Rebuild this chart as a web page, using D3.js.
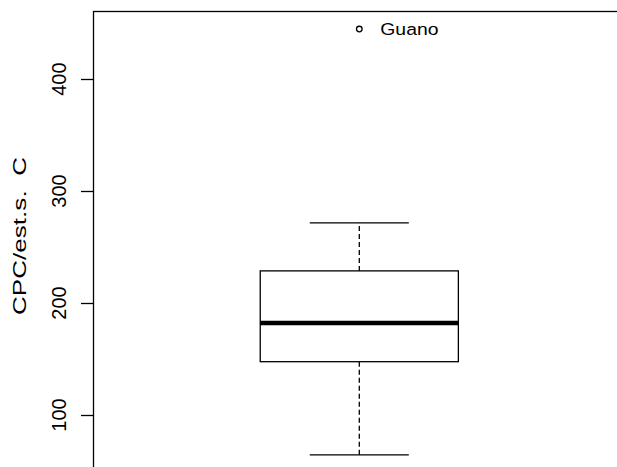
<!DOCTYPE html>
<html>
<head>
<meta charset="utf-8">
<script src="https://cdn.jsdelivr.net/npm/d3@7"></script>
<style>
  html, body { margin: 0; padding: 0; background: #fff; }
  svg { display: block; }
  text { font-family: "Liberation Sans", Arial, Helvetica, sans-serif; fill: #000; white-space: pre; }
</style>
</head>
<body>
<svg id="chart" width="617" height="467"></svg>
<script>
// Five-number summary of CPC / estimated soil C, plus the single outlier
const groups = ["CPC"];
const whiskerLow = [64.3];
const q1 = [147.6];
const median = [182.2];
const q3 = [228.7];
const whiskerHigh = [271.6];
const outlierValues = [444.7];
const outlierNames = ["Guano"];
const yTicks = [100, 200, 300, 400];
const yTitle = "CPC/est.s.  C";

const svg = d3.select("#chart");

// plotting region (extends past the right and bottom edges of the window)
const plot = { left: 93, top: 12, right: 625.6, bottom: 472 };

// y range padded 4% beyond the data extent, as in base R graphics
const lo = d3.min([...whiskerLow, ...outlierValues]);
const hi = d3.max([...whiskerHigh, ...outlierValues]);
const pad = (hi - lo) * 0.04;
const y = d3.scaleLinear().domain([lo - pad, hi + pad]).range([plot.bottom, plot.top]);
const x = d3.scaleLinear().domain([0.5, 1.5]).range([plot.left, plot.right]);

const boxW = 0.372;          // box width in x units
const stapleW = boxW / 2;    // whisker cap width

// frame
svg.append("rect")
  .attr("x", plot.left + 0.5).attr("y", plot.top - 0.5)
  .attr("width", plot.right - plot.left).attr("height", plot.bottom - plot.top)
  .attr("fill", "none").attr("stroke", "#000").attr("stroke-width", 1.3);

// y axis ticks and rotated labels
const yAxis = svg.append("g");
yAxis.selectAll("line").data(yTicks).join("line")
  .attr("x1", plot.left - 12).attr("x2", plot.left)
  .attr("y1", d => Math.round(y(d)) + 0.5).attr("y2", d => Math.round(y(d)) + 0.5)
  .attr("stroke", "#000").attr("stroke-width", 1.3);
yAxis.selectAll("text").data(yTicks).join("text")
  .attr("transform", d => `translate(66,${y(d)}) rotate(-90)`)
  .attr("text-anchor", "middle")
  .attr("font-size", 20)
  .text(d => d);

// axis title (wide raster-style lettering)
svg.append("text")
  .attr("transform", `translate(25.5,236) rotate(-90) scale(1.45,1)`)
  .attr("text-anchor", "middle")
  .attr("font-size", 18)
  .text(yTitle);

// boxes
const g = svg.append("g");
groups.forEach((name, i) => {
  const cx = x(i + 1);
  const bx0 = x(i + 1 - boxW / 2), bx1 = x(i + 1 + boxW / 2);
  const sx0 = x(i + 1 - stapleW / 2), sx1 = x(i + 1 + stapleW / 2);

  // dashed whiskers
  [[q3[i], whiskerHigh[i]], [q1[i], whiskerLow[i]]].forEach(([a, b]) => {
    g.append("line")
      .attr("x1", cx).attr("x2", cx).attr("y1", y(a)).attr("y2", y(b))
      .attr("stroke", "#000").attr("stroke-width", 1.3).attr("stroke-dasharray", "5,3");
  });
  // staples
  [whiskerHigh[i], whiskerLow[i]].forEach(v => {
    g.append("line")
      .attr("x1", sx0).attr("x2", sx1).attr("y1", y(v)).attr("y2", y(v))
      .attr("stroke", "#000").attr("stroke-width", 1.3);
  });
  // box
  g.append("rect")
    .attr("x", bx0).attr("y", y(q3[i]))
    .attr("width", bx1 - bx0).attr("height", y(q1[i]) - y(q3[i]))
    .attr("fill", "#fff").attr("stroke", "#000").attr("stroke-width", 1.3);
  // median
  g.append("line")
    .attr("x1", bx0).attr("x2", bx1).attr("y1", y(median[i])).attr("y2", y(median[i]))
    .attr("stroke", "#000").attr("stroke-width", 4.5);
});

// outliers with their names
outlierValues.forEach((v, j) => {
  const cx = x(1), cy = y(v);
  svg.append("circle")
    .attr("cx", cx).attr("cy", cy).attr("r", 2.8)
    .attr("fill", "none").attr("stroke", "#000").attr("stroke-width", 1.3);
  svg.append("text")
    .attr("transform", `translate(${cx + 21},${cy + 6.3}) scale(1.14,1)`)
    .attr("font-size", 17)
    .text(outlierNames[j]);
});
</script>
</body>
</html>
